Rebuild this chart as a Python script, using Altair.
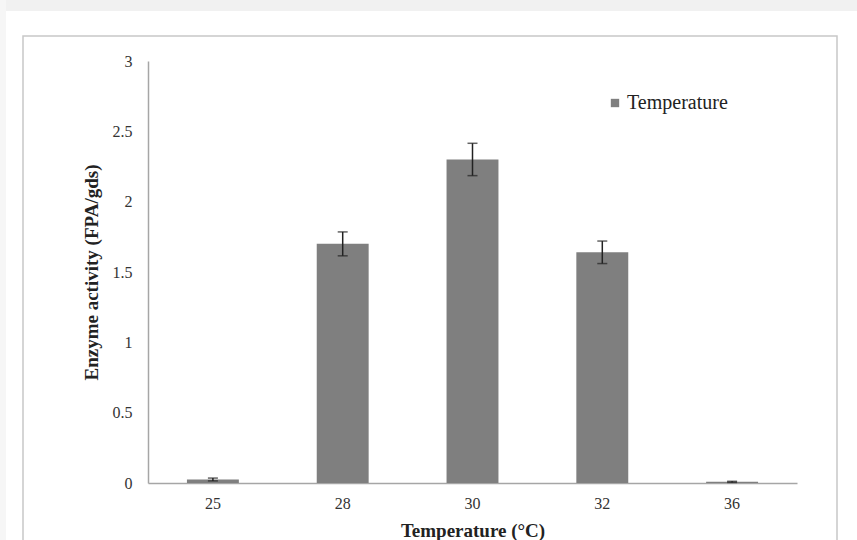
import altair as alt
import pandas as pd

# Enzyme activity measured at each incubation temperature
temperatures = ["25", "28", "30", "32", "36"]
activity = [0.025, 1.70, 2.30, 1.64, 0.008]
std_err = [0.010, 0.085, 0.115, 0.080, 0.004]
series = ["Temperature"] * len(temperatures)

df = pd.DataFrame({
    "temp": temperatures,
    "activity": activity,
    "lo": [a - e for a, e in zip(activity, std_err)],
    "hi": [a + e for a, e in zip(activity, std_err)],
    "series": series,
})

FONT = "Liberation Serif"
W, H = 649, 422

x_enc = alt.X("temp:N", sort=temperatures, title="Temperature (°C)",
              scale=alt.Scale(paddingInner=0.6, paddingOuter=0.3),
              axis=alt.Axis(labelAngle=0, ticks=False, labelPadding=12,
                            titlePadding=10, domainColor="#a6a6a6",
                            domainWidth=1.5))

base = alt.Chart(df)

bars = base.mark_bar(color="#7f7f7f").encode(
    x=x_enc,
    y=alt.Y("activity:Q", title="Enzyme activity (FPA/gds)",
            scale=alt.Scale(domain=[0, 3]),
            axis=alt.Axis(values=[0, 0.5, 1, 1.5, 2, 2.5, 3], ticks=False,
                          grid=False, labelPadding=16, titlePadding=11,
                          domainColor="#a6a6a6", domainWidth=1.5,
                          labelExpr="datum.value")),
    color=alt.Color("series:N", title=None,
                    scale=alt.Scale(range=["#7f7f7f"]),
                    legend=alt.Legend(orient="none", legendX=457, legendY=32,
                                      symbolType="square", symbolSize=70,
                                      symbolStrokeWidth=0, labelOffset=2,
                                      labelFont=FONT, labelFontSize=20,
                                      labelColor="#222222")),
)

err_rule = base.mark_rule(color="#222222", strokeWidth=1.5).encode(
    x=alt.X("temp:N", sort=temperatures),
    y="lo:Q",
    y2="hi:Q",
)

caps_hi = base.mark_tick(color="#222222", thickness=1.5, size=10).encode(
    x=alt.X("temp:N", sort=temperatures),
    y="hi:Q",
)
caps_lo = base.mark_tick(color="#222222", thickness=1.5, size=10).encode(
    x=alt.X("temp:N", sort=temperatures),
    y="lo:Q",
)

deco = pd.DataFrame({"k": [0]})

# Figure frame around the plot
frame = alt.Chart(deco).mark_rect(
    fill=None, stroke="#c8c8c8", strokeWidth=1.5
).encode(
    x=alt.value(-125), x2=alt.value(689),
    y=alt.value(-25), y2=alt.value(620),
)

# Faint page shading along the top and left edges
top_band = alt.Chart(deco).mark_rect(fill="#f1f1f1").encode(
    x=alt.value(-148), x2=alt.value(709),
    y=alt.value(-61), y2=alt.value(-50),
)
left_band = alt.Chart(deco).mark_rect(fill="#f6f6f6").encode(
    x=alt.value(-148), x2=alt.value(-142),
    y=alt.value(-61), y2=alt.value(479),
)

chart = alt.layer(top_band, left_band, frame, bars, err_rule, caps_hi,
                  caps_lo).properties(
    width=W, height=H,
    autosize=alt.AutoSizeParams(type="none"),
    padding={"left": 148, "top": 61, "right": 60, "bottom": 57},
    background="#ffffff",
).configure(font=FONT).configure_view(stroke=None).configure_axis(
    labelFont=FONT, titleFont=FONT, labelFontSize=16, titleFontSize=19,
    labelColor="#333333", titleColor="#222222", titleFontWeight="bold",
).configure_legend(
    labelFont=FONT, labelFontSize=20, labelColor="#222222",
)

chart.save("out.html", embed_options={"renderer": "svg", "actions": False})
